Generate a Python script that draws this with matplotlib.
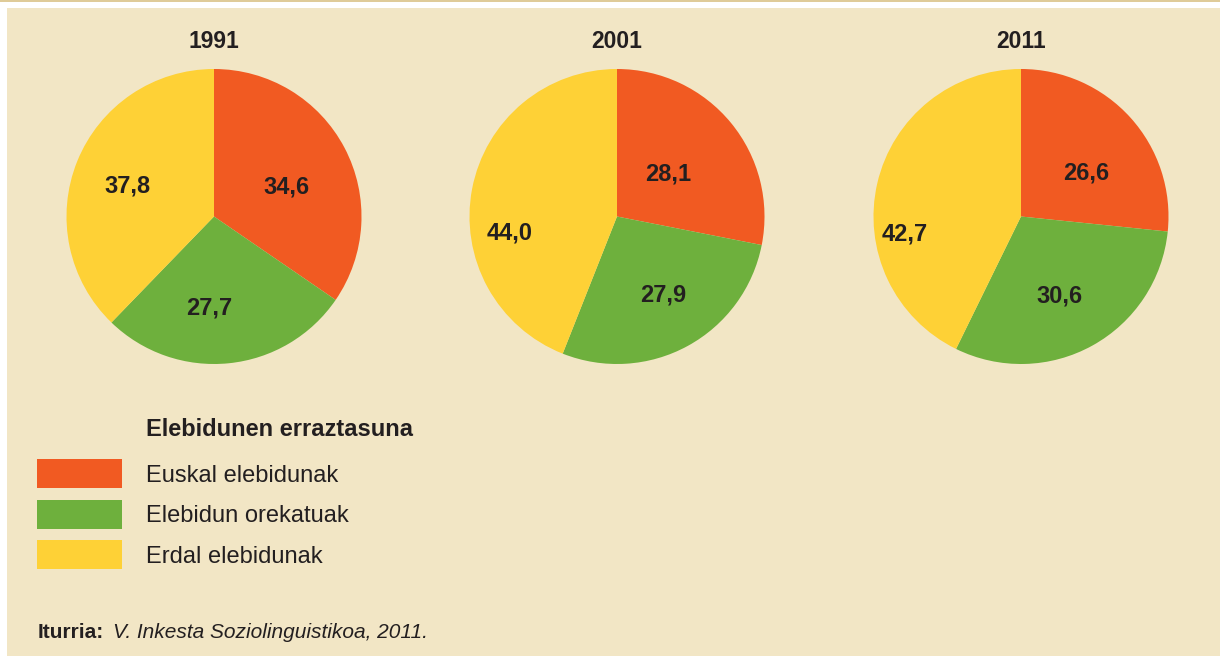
import numpy as np
import matplotlib
matplotlib.use("Agg")
import matplotlib.pyplot as plt
from matplotlib.patches import Rectangle

plt.rcParams['font.family'] = ['Liberation Sans', 'DejaVu Sans']

# ---- data ----
years = ["1991", "2001", "2011"]
categories = ["Euskal elebidunak", "Elebidun orekatuak", "Erdal elebidunak"]
values_1991 = [34.6, 27.7, 37.8]
values_2001 = [28.1, 27.9, 44.0]
values_2011 = [26.6, 30.6, 42.7]
legend_title = "Elebidunen erraztasuna"
source_label = "Iturria:"
source_text = "V. Inkesta Soziolinguistikoa, 2011."

# ---- style ----
colors = ["#f15a22", "#6eb03d", "#fed136"]
bg = "#f2e6c5"
txt = "#231f20"
W, H = 1220, 656
R = 147.5
centers = [(214, 216.5), (617, 216.5), (1021, 216.5)]
# label placement tweaks (angle offset deg, radial fraction)
label_tweaks = [
    [(-6, 0.53), (-9, 0.62), (2.5, 0.62)],
    [(0, 0.45), (2, 0.62), (19.7, 0.74)],
    [(-8.6, 0.53), (-3, 0.60), (21.5, 0.80)],
]

fig = plt.figure(figsize=(W / 100, H / 100), dpi=100)
fig.patch.set_facecolor("white")


def fx(x):
    return x / W


def fy(y):
    return 1 - y / H


# background panel and top rule
fig.add_artist(Rectangle((fx(7), 0), 1 - fx(7), fy(8), transform=fig.transFigure,
                         facecolor=bg, edgecolor="none", zorder=0))
fig.add_artist(Rectangle((0, fy(2)), 1, 2 / H, transform=fig.transFigure,
                         facecolor="#dfcb98", edgecolor="none", zorder=0))

all_values = [values_1991, values_2001, values_2011]
for i, (vals, yr, (cx, cy)) in enumerate(zip(all_values, years, centers)):
    ax = fig.add_axes([fx(cx - R), fy(cy + R), 2 * R / W, 2 * R / H])
    ax.set_facecolor("none")
    wedges, _ = ax.pie(vals, colors=colors, startangle=90, counterclock=False,
                       radius=1, wedgeprops=dict(linewidth=0))
    ax.set_xlim(-1, 1)
    ax.set_ylim(-1, 1)
    ax.set_aspect("equal")
    ax.axis("off")
    for w, v, (dth, rf) in zip(wedges, vals, label_tweaks[i]):
        mid = np.deg2rad((w.theta1 + w.theta2) / 2 + dth)
        ax.text(rf * np.cos(mid), rf * np.sin(mid), f"{v:.1f}".replace(".", ","),
                ha="center", va="center", fontsize=17, fontweight="bold", color=txt)
    fig.text(fx(cx), fy(48.5), yr, ha="center", va="baseline", fontsize=16.5,
             fontweight="bold", color=txt)

# legend
fig.text(fx(146), fy(436), legend_title, ha="left", va="baseline", fontsize=17,
         fontweight="bold", color=txt)
patch_tops = [459, 500, 540]
text_base = [481.5, 522.5, 563]
for cat, col, pt, tb in zip(categories, colors, patch_tops, text_base):
    fig.add_artist(Rectangle((fx(37), fy(pt + 29)), 85 / W, 29 / H,
                             transform=fig.transFigure, facecolor=col,
                             edgecolor="none"))
    fig.text(fx(146), fy(tb), cat, ha="left", va="baseline", fontsize=17, color=txt)

# source
t1 = fig.text(fx(38), fy(637.5), source_label, ha="left", va="baseline",
              fontsize=15, fontweight="bold", color=txt)
ann = plt.annotate(source_text, xy=(1, 0), xycoords=t1, xytext=(6, 0),
                   textcoords="offset points", ha="left", va="bottom",
                   fontsize=15, style="italic", color=txt,
                   annotation_clip=False)

fig.savefig("out.png", dpi=100, facecolor=fig.get_facecolor())
